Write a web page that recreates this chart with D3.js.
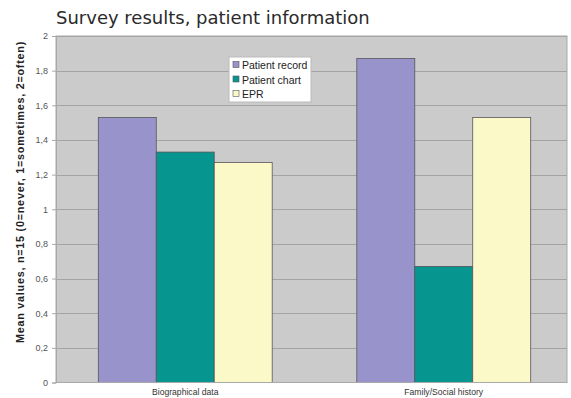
<!DOCTYPE html>
<html>
<head>
<meta charset="utf-8">
<script src="https://cdn.jsdelivr.net/npm/d3@7"></script>
<style>
  html, body { margin: 0; padding: 0; background: #fff; }
  svg { display: block; }
</style>
</head>
<body>
<svg id="chart" width="571" height="398"></svg>
<script>
// Survey answers, mean values out of n=15 respondents
const categories = ["Biographical data", "Family/Social history"];
const seriesNames = ["Patient record", "Patient chart", "EPR"];
const patientRecord = [1.53, 1.87];
const patientChart = [1.33, 0.67];
const epr = [1.27, 1.53];
const yTicks = [0, 0.2, 0.4, 0.6, 0.8, 1, 1.2, 1.4, 1.6, 1.8, 2];
const seriesColors = ["#9894cb", "#07968f", "#fbf9c8"];

const seriesValues = [patientRecord, patientChart, epr];
const rows = categories.map((c, i) => ({
  category: c,
  values: seriesNames.map((s, j) => ({ series: s, value: seriesValues[j][i], idx: j }))
}));

const svg = d3.select("#chart");
const plot = { left: 56, right: 567, top: 36, bottom: 382.5 };

const y = d3.scaleLinear().domain([0, 2]).range([plot.bottom, plot.top]);
// the category bands run slightly past the visible right edge of the plot
const x0 = d3.scaleBand().domain(categories).range([plot.left, 573]).padding(0);
const x1 = d3.scaleBand().domain(seriesNames).range([0, x0.bandwidth()])
  .paddingInner(0).paddingOuter(0.73);
const color = d3.scaleOrdinal().domain(seriesNames).range(seriesColors);

// Title
svg.append("text")
  .attr("x", 56).attr("y", 24)
  .attr("font-family", "DejaVu Sans, Verdana, sans-serif")
  .attr("font-size", 18)
  .attr("fill", "#2a2a2a")
  .text("Survey results, patient information");

// Plot background
svg.append("rect")
  .attr("x", plot.left).attr("y", plot.top)
  .attr("width", plot.right - plot.left).attr("height", plot.bottom - plot.top)
  .attr("fill", "#cbcbcb")
  .attr("stroke", "#a8a8a8").attr("stroke-width", 1);

// Gridlines
svg.append("g").selectAll("line")
  .data(yTicks.filter(d => d > 0))
  .join("line")
  .attr("x1", plot.left).attr("x2", plot.right)
  .attr("y1", d => Math.round(y(d)) + 0.5).attr("y2", d => Math.round(y(d)) + 0.5)
  .attr("stroke", "#a4a4a4").attr("stroke-width", 1);

// Y axis
const yAxis = d3.axisLeft(y)
  .tickValues(yTicks)
  .tickSize(4)
  .tickFormat(d => String(d).replace(".", ","));
const gy = svg.append("g")
  .attr("transform", `translate(${plot.left},0)`)
  .call(yAxis);
gy.select(".domain").attr("stroke", "#a8a8a8");
gy.selectAll(".tick line").attr("stroke", "#a8a8a8");
gy.selectAll(".tick text")
  .attr("x", -8)
  .attr("font-family", "Liberation Sans, Arial, sans-serif")
  .attr("font-size", 9)
  .attr("fill", "#555");

// Bars
const groups = svg.append("g").selectAll("g")
  .data(rows)
  .join("g")
  .attr("transform", d => `translate(${x0(d.category)},0)`);
groups.selectAll("rect")
  .data(d => d.values)
  .join("rect")
  .attr("x", d => x1(d.series))
  .attr("y", d => y(d.value))
  .attr("width", x1.bandwidth())
  .attr("height", d => y(0) - y(d.value))
  .attr("fill", d => color(d.series))
  .attr("stroke", "#55555a").attr("stroke-width", 0.8);

// Bottom axis line
svg.append("line")
  .attr("x1", plot.left).attr("x2", plot.right)
  .attr("y1", plot.bottom).attr("y2", plot.bottom)
  .attr("stroke", "#a8a8a8");

// Category labels
svg.append("g").selectAll("text")
  .data(categories)
  .join("text")
  .attr("x", d => x0(d) + x0.bandwidth() / 2)
  .attr("y", 395)
  .attr("text-anchor", "middle")
  .attr("font-family", "Liberation Sans, Arial, sans-serif")
  .attr("font-size", 8.6)
  .attr("fill", "#333")
  .text(d => d);

// Y axis title
svg.append("text")
  .attr("transform", "translate(24,192) rotate(-90)")
  .attr("text-anchor", "middle")
  .attr("font-family", "Liberation Sans, Arial, sans-serif")
  .attr("font-size", 10.8)
  .attr("letter-spacing", 0.75)
  .attr("font-weight", "bold")
  .attr("fill", "#222")
  .text("Mean values, n=15 (0=never, 1=sometimes, 2=often)");

// Legend
const legend = svg.append("g").attr("transform", "translate(229,57)");
legend.append("rect")
  .attr("width", 82).attr("height", 45)
  .attr("fill", "#fff").attr("stroke", "#bbb");
const items = legend.selectAll("g.item")
  .data(seriesNames)
  .join("g")
  .attr("class", "item")
  .attr("transform", (d, i) => `translate(4,${8 + i * 14.5})`);
items.append("rect")
  .attr("x", 0).attr("y", -3.5)
  .attr("width", 6).attr("height", 6)
  .attr("fill", d => color(d))
  .attr("stroke", "#555").attr("stroke-width", 0.6);
items.append("text")
  .attr("x", 9).attr("y", 4)
  .attr("font-family", "Liberation Sans, Arial, sans-serif")
  .attr("font-size", 10.5)
  .attr("fill", "#222")
  .text(d => d);
</script>
</body>
</html>
